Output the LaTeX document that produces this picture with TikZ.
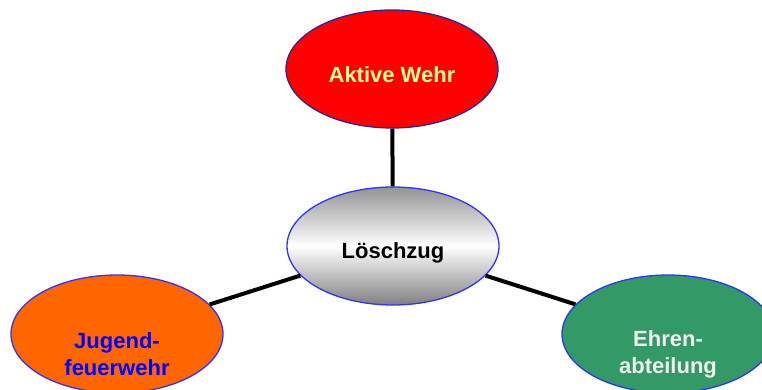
\documentclass[tikz,border=0pt]{standalone}
\usepackage{fontspec}
\setmainfont{Liberation Sans}
\usetikzlibrary{shapes.geometric}
\definecolor{navyb}{RGB}{40,40,150}
\definecolor{blueb}{RGB}{50,50,255}
\definecolor{txtyellow}{RGB}{255,255,150}
\definecolor{orangef}{RGB}{255,102,0}
\definecolor{greenf}{RGB}{51,153,102}
\definecolor{txtwhite}{RGB}{240,240,240}
\tikzset{
  bubble/.style={ellipse, minimum width=212pt, minimum height=118pt, inner sep=0pt, line width=1.3pt},
  lbl/.style={font=\fontsize{22}{27}\selectfont\bfseries, align=center, inner sep=0pt},
  link/.style={line width=4pt, black}
}
\begin{document}
\begin{tikzpicture}[x=1pt,y=-1pt]
\useasboundingbox (0,0) rectangle (762,390);
\node[bubble, draw=navyb, fill=red] (top) at (392,69) {};
\node[bubble, draw=blueb, top color=black!42, bottom color=black!50, middle color=white] (mid) at (393,246) {};
\node[bubble, draw=blueb, fill=orangef] (left) at (117,334) {};
\node[bubble, draw=blueb, fill=greenf] (right) at (668,334) {};
\draw[link] (top) -- (mid);
\draw[link] (left) -- (mid);
\draw[link] (right) -- (mid);
\node[lbl, text=txtyellow] (ttop) at (392,75) {Aktive Wehr};
\node[lbl, text=black] (tmid) at (393,253) {Löschzug};
\node[lbl, text=blue] (tleft) at (117,354) {Jugend-\\feuerwehr};
\node[lbl, text=txtwhite] (tright) at (668,354) {Ehren-\\abteilung};
\end{tikzpicture}
\end{document}
